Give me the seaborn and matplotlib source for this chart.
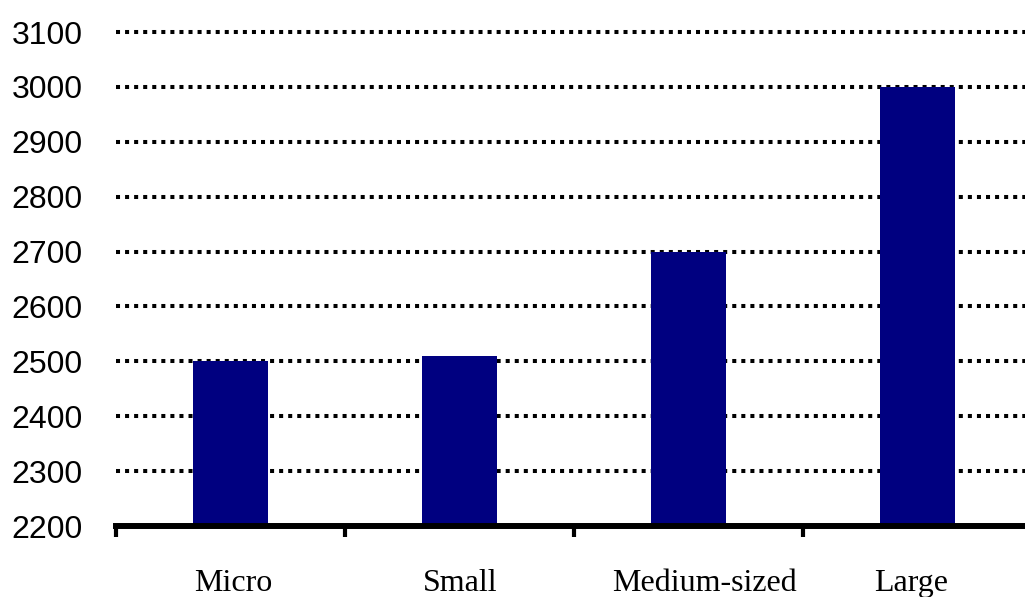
import numpy as np
import matplotlib.pyplot as plt
import matplotlib.transforms as mtransforms
import seaborn as sns

categories = ["Micro", "Small", "Medium-sized", "Large"]
values = [2500, 2510, 2700, 3000]
y_ticks = [2200, 2300, 2400, 2500, 2600, 2700, 2800, 2900, 3000, 3100]

sns.set_style("white")
plt.rcParams['font.family'] = ['Liberation Sans', 'DejaVu Sans']

fig = plt.figure(figsize=(10.25, 5.97), dpi=100)
# axes: left edge at x=116px, right edge runs past the figure border (cropped look)
ax = fig.add_axes([116 / 1025, 71 / 597, 1 - 116 / 1025, 494 / 597])

sns.barplot(x=categories, y=values, color="#000080", saturation=1, width=0.325,
            linewidth=0, ax=ax)

ax.set_ylim(2200, 3100)
ax.set_yticks(y_ticks)
ax.set_yticklabels([str(v) for v in y_ticks], fontsize=23, color="black")
ax.tick_params(axis="y", length=0, pad=24)

# dotted gridlines behind the bars
ax.set_axisbelow(True)
ax.yaxis.grid(True, color="black", linewidth=2.9,
              linestyle=(0, (1, 1.25)), dash_capstyle="butt")
ax.xaxis.grid(False)
for gl in ax.get_ygridlines():
    gl.set_clip_on(False)

# category boundary ticks and the labels in between
ax.set_xticks(np.arange(-0.5, len(categories), 1.0))
ax.set_xticklabels([])
ax.tick_params(axis="x", which="major", bottom=True, direction="out",
               length=8, width=3, color="black")
ax.set_xticks(np.arange(len(categories)), minor=True)
ax.set_xticklabels(categories, minor=True, fontsize=23, color="black",
                   family="Liberation Serif")
ax.tick_params(axis="x", which="minor", bottom=True, length=0, pad=31)
ax.set_xlabel("")
ax.set_ylabel("")

# the original labels sit a little off-centre
label_shift = [3, 1, 16, -6]
for lab, dx in zip(ax.get_xticklabels(minor=True), label_shift):
    lab.set_transform(lab.get_transform() +
                      mtransforms.ScaledTranslation(dx / 100, 0, fig.dpi_scale_trans))

for side in ["left", "right", "top"]:
    ax.spines[side].set_visible(False)
ax.spines["bottom"].set_linewidth(4.3)
ax.spines["bottom"].set_color("black")

ax.set_autoscale_on(False)
ax.set_xlim(-0.5, 3.47)

fig.savefig("out.png", dpi=100)
